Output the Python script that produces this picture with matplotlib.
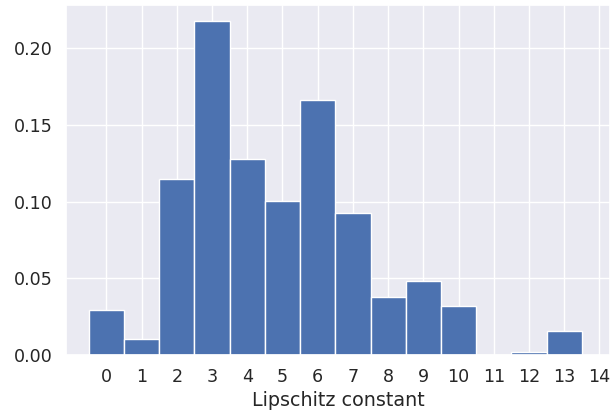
import numpy as np
import seaborn as sns
from matplotlib import pyplot as plt

sns.set_theme(style="darkgrid", font_scale=1.15)

# density of Lipschitz constants per integer bin
lipschitz = [0, 1, 2, 3, 4, 5, 6, 7, 8, 9, 10, 11, 12, 13]
density = [0.0297, 0.0102, 0.1145, 0.2174, 0.1278, 0.1005, 0.1660,
           0.0925, 0.0376, 0.0484, 0.0323, 0.0, 0.0022, 0.0158]
tick_labels = list(range(15))

fig = plt.figure(figsize=(6.1, 4.12), dpi=100)
ax = fig.add_axes([0.108, 0.138, 0.892, 0.850])

ax.bar(lipschitz, density, width=1.0, color="#4c72b0",
       edgecolor="white", linewidth=1.0)

ax.set_xticks(tick_labels)
ax.set_xticklabels([str(t) for t in tick_labels])
ax.set_yticks([0.0, 0.05, 0.10, 0.15, 0.20])
ax.set_yticklabels(["0.00", "0.05", "0.10", "0.15", "0.20"])
ax.set_xlim(-1.15, 14.3)
ax.set_ylim(0, 0.228)
ax.set_xlabel("Lipschitz constant", labelpad=3)

fig.savefig("out.png", dpi=100)
